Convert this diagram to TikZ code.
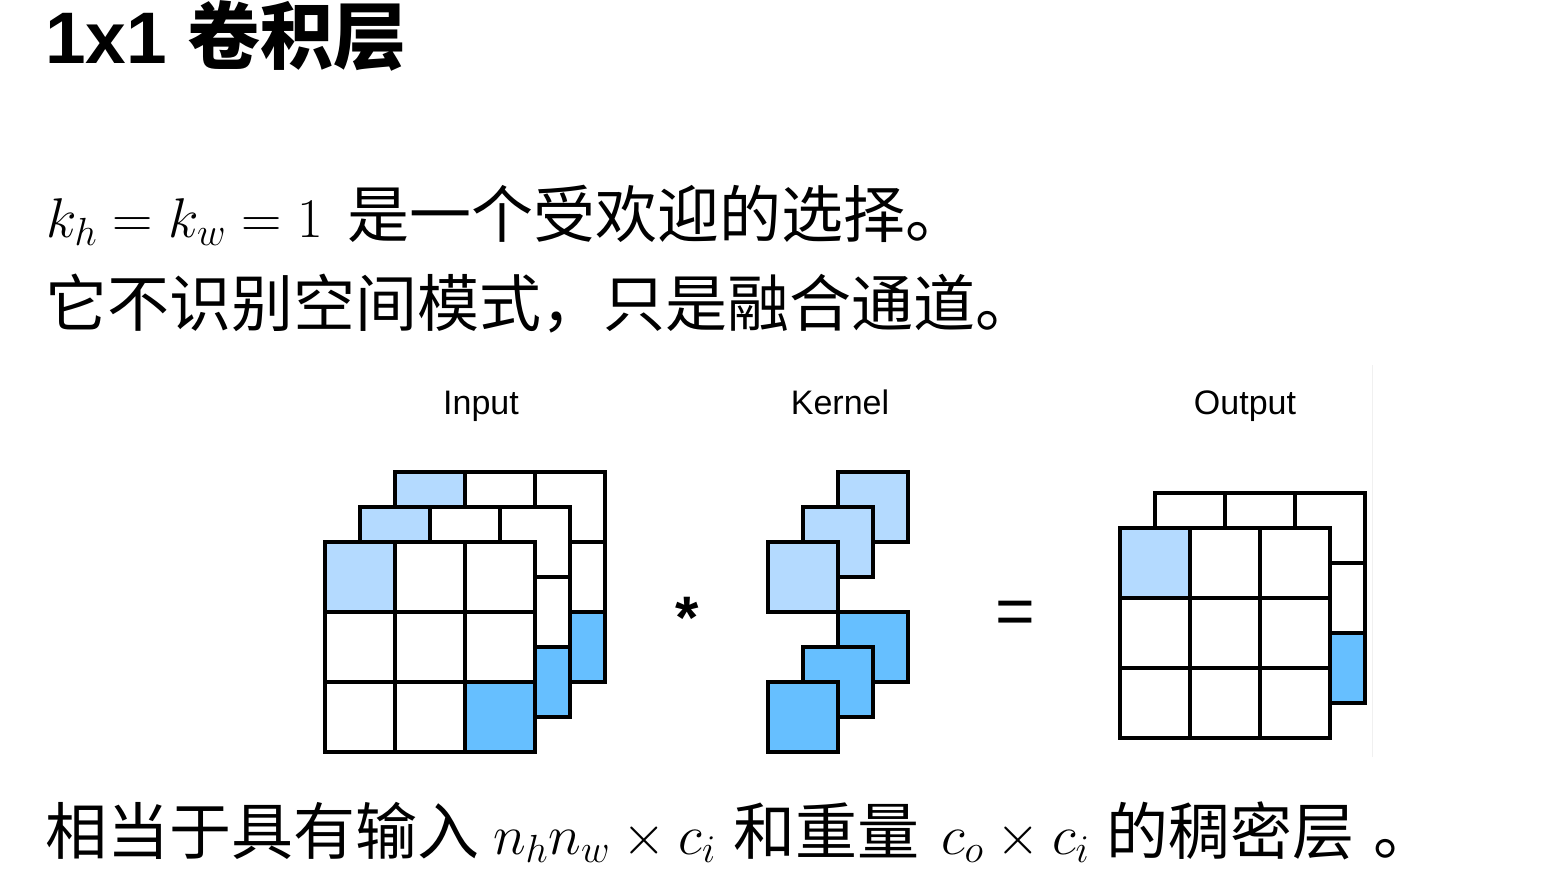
\RequirePackage{fix-cm}
\documentclass[tikz,border=0pt]{standalone}
\usepackage{fontspec}
\setmainfont{Liberation Sans}
\newfontfamily\cjk{Noto Sans CJK SC}
\definecolor{lightblue}{RGB}{180,218,255}
\definecolor{darkblue}{RGB}{102,191,255}
\usetikzlibrary{calc}
\tikzset{
  txt/.style={anchor=base west, inner sep=0pt, outer sep=0pt},
  lbl/.style={anchor=base, inner sep=0pt, font=\fontsize{34}{40}\selectfont},
  gridline/.style={line width=4pt, line join=miter, draw=black},
}
\newcommand\gridlayer[2]{%
  \fill[white] (#1,#2) rectangle ++(210,210);}
\newcommand\gridlines[2]{%
  \draw[gridline] (#1,#2) rectangle ++(210,210);
  \foreach \i in {70,140}{
    \draw[gridline] ($(#1,#2)+(\i,0)$) -- ++(0,210);
    \draw[gridline] ($(#1,#2)+(0,\i)$) -- ++(210,0);
  }}
\newcommand\cell[3]{\fill[#3] (#1,#2) rectangle ++(70,70);}
\begin{document}
\begin{tikzpicture}[x=1pt,y=-1pt]
\useasboundingbox (0,0) rectangle (1560,881);
% faint edge
\draw[black!6, line width=1pt] (1372,365) -- (1372,757);
% title
\node[txt] (title) at (45,63) {\fontsize{73}{80}\selectfont\bfseries 1x1 {\cjk\bfseries 卷积层}};
% line 1
\node[txt] (l1m) at (46,237) {\fontsize{56}{62}\selectfont $k_h = k_w = 1$};
\node[txt] (l1t) at (347,237) {\cjk\fontsize{62}{70}\selectfont 是一个受欢迎的选择。};
% line 2
\node[txt] (l2) at (45,326) {\cjk\fontsize{62}{70}\selectfont 它不识别空间模式，只是融合通道。};
% line 3
\node[txt] (l3a) at (45,854) {\cjk\fontsize{62}{70}\selectfont 相当于具有输入};
\node[txt] (l3b) at (493,854) {\fontsize{56}{62}\selectfont $n_hn_w \times c_i$};
\node[txt] (l3c) at (733,854) {\cjk\fontsize{62}{70}\selectfont 和重量};
\node[txt] (l3d) at (941,854) {\fontsize{56}{62}\selectfont $c_o \times c_i$};
\node[txt] (l3e) at (1106,854) {\cjk\fontsize{62}{70}\selectfont 的稠密层};
\node[txt] (l3f) at (1373,854) {\cjk\fontsize{62}{70}\selectfont 。};
% labels
\node[lbl] (inlbl) at (481,414) {Input};
\node[lbl] (klbl) at (840,414) {Kernel};
\node[lbl] (outlbl) at (1245,414) {Output};
% Input: back, middle, front
\gridlayer{395}{472}\cell{395}{472}{lightblue}\cell{535}{612}{darkblue}\gridlines{395}{472}
\gridlayer{360}{507}\cell{360}{507}{lightblue}\cell{500}{647}{darkblue}\gridlines{360}{507}
\gridlayer{325}{542}\cell{325}{542}{lightblue}\cell{465}{682}{darkblue}\gridlines{325}{542}
% operator
\node[anchor=base, inner sep=0pt] (star) at (687,638) {\fontsize{60}{64}\selectfont\bfseries *};
% Kernel
\foreach \x/\y/\c in {838/472/lightblue, 803/507/lightblue, 768/542/lightblue,
                      838/612/darkblue, 803/647/darkblue, 768/682/darkblue}{
  \filldraw[fill=\c, gridline] (\x,\y) rectangle ++(70,70);
}
% equals
\node[anchor=base, inner sep=0pt] (eq) at (1015,634) {\fontsize{68}{72}\selectfont =};
% Output: back, front
\gridlayer{1155}{493}\cell{1295}{633}{darkblue}\gridlines{1155}{493}
\gridlayer{1120}{528}\cell{1120}{528}{lightblue}\gridlines{1120}{528}
\end{tikzpicture}
\end{document}
